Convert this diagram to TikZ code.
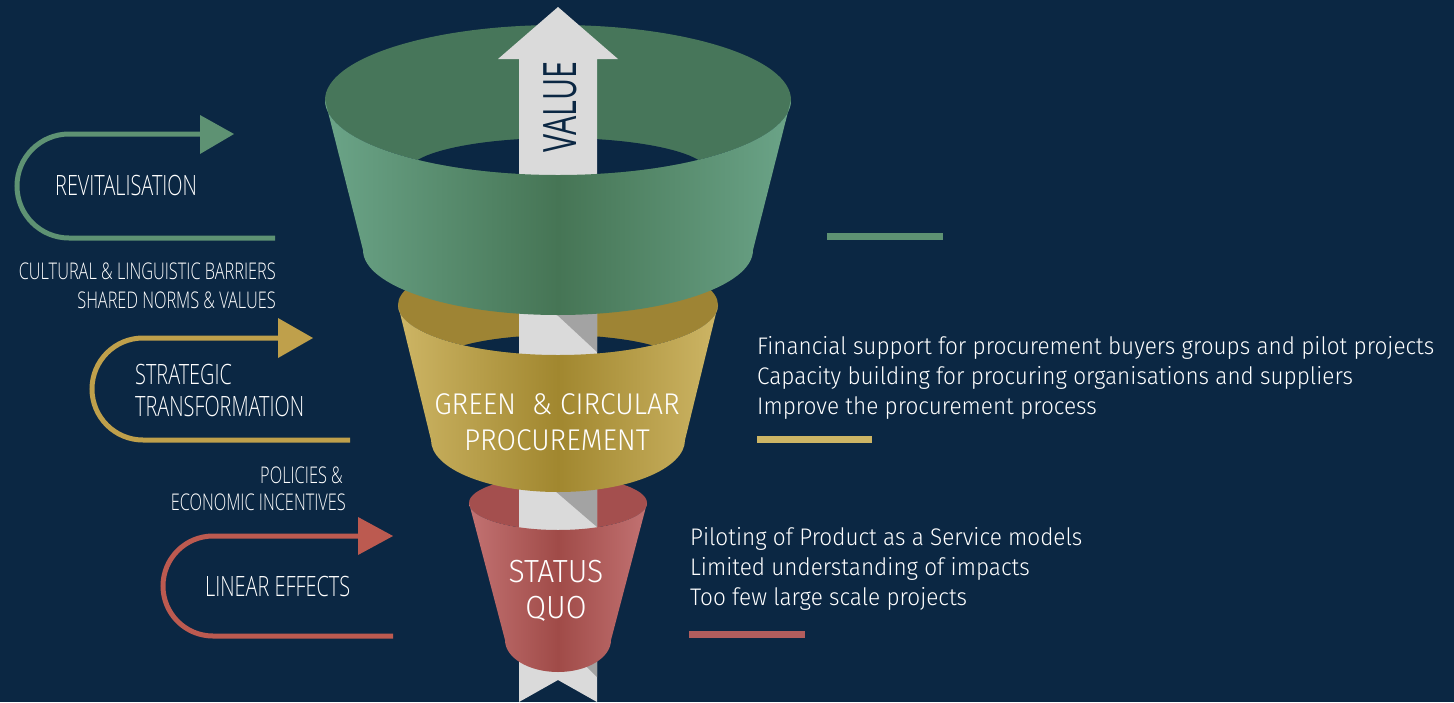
\documentclass[tikz,border=0pt]{standalone}
\usepackage{fontspec}
\setmainfont{Fira Sans}
\newfontfamily\condfont[FakeStretch=0.71]{Open Sans Light}
\newfontfamily\valuefont[FakeStretch=0.66]{Open Sans}
\newfontfamily\thinfont[FakeStretch=0.94]{Fira Sans Light}
\definecolor{navy}{HTML}{0B2743}
\definecolor{greenedge}{HTML}{6BA488}
\definecolor{greenmid}{HTML}{467555}
\definecolor{greenin}{HTML}{47765A}
\definecolor{goldedge}{HTML}{CDB565}
\definecolor{goldmid}{HTML}{A1872F}
\definecolor{goldin}{HTML}{9E8434}
\definecolor{rededge}{HTML}{C27272}
\definecolor{redmid}{HTML}{A04B48}
\definecolor{redin}{HTML}{A44F4E}
\definecolor{greenline}{HTML}{5E9273}
\definecolor{goldline}{HTML}{BFA04B}
\definecolor{redline}{HTML}{BC5A50}
\definecolor{redbar}{HTML}{B25D5D}
\definecolor{arrowlight}{HTML}{DADADA}
\definecolor{arrowgray}{HTML}{A3A3A3}
\begin{document}
\begin{tikzpicture}[x=1pt,y=-1pt,>=latex]
            \fill[navy] (0,0) rectangle (1454,702);
            \useasboundingbox (0,0) rectangle (1454,702);

            \fill[redin] (558,503) ellipse [x radius=89, y radius=27];
            \fill[goldin] (558,305) ellipse [x radius=160, y radius=50];
            \begin{scope}
                \clip (558,305) ellipse [x radius=160, y radius=50];
                \fill[navy] (558,365) ellipse [x radius=125, y radius=30];
            \end{scope}
            \fill[greenin] (558,100) ellipse [x radius=233, y radius=75];
            \begin{scope}
                \clip (558,100) ellipse [x radius=233, y radius=75];
                \fill[navy] (558,172) ellipse [x radius=150, y radius=34];
            \end{scope}

            \fill[arrowlight] (519,702) -- (519,59) -- (498,59) -- (558,7) -- (618,59)
                -- (597,59) -- (597,702) -- (558,680) -- cycle;
            \fill[arrowgray] (541,300) -- (597,300) -- (597,352) -- cycle;
            \fill[arrowgray] (540,478) -- (597,478) -- (597,527) -- cycle;
            \fill[arrowgray] (560,640) -- (597,640) -- (597,677) -- cycle;
            \node[rotate=90, text=navy, font=\valuefont\fontsize{46}{46}\selectfont] (value) at (560,107) {VALUE};

            \shade[left color=rededge, right color=rededge, middle color=redmid]
                (469,503) arc[start angle=180, end angle=0, x radius=89, y radius=27]
                -- (611,640) arc[start angle=0, end angle=180, x radius=53, y radius=32] -- cycle;
            \shade[left color=goldedge, right color=goldedge, middle color=goldmid]
                (398,305) arc[start angle=180, end angle=0, x radius=160, y radius=50]
                -- (685,440) arc[start angle=0, end angle=180, x radius=127, y radius=52] -- cycle;
            \shade[left color=greenedge, right color=greenedge, middle color=greenmid]
                (325,100) arc[start angle=180, end angle=0, x radius=233, y radius=75]
                -- (753,250) arc[start angle=0, end angle=180, x radius=195, y radius=65] -- cycle;

            \tikzset{loop line/.style={line width=5pt}}
            \draw[loop line, greenline] (275,238) -- (69,238) arc[start angle=90, end angle=270, radius=52] -- (205,134);
            \fill[greenline] (200,115) -- (234,134) -- (200,154) -- cycle;
            \draw[loop line, goldline] (350,440) -- (143,440) arc[start angle=90, end angle=270, radius=51] -- (283,338);
            \fill[goldline] (278,318) -- (313,338) -- (278,358) -- cycle;
            \draw[loop line, redline] (393,636) -- (213,636) arc[start angle=90, end angle=270, radius=50] -- (363,536);
            \fill[redline] (358,517) -- (393,536) -- (358,555) -- cycle;

            \begin{scope}[every node/.style={text=white, inner sep=0pt, font=\condfont\fontsize{28}{28}\selectfont}]
                \node[anchor=base west] (revit) at (55,195) {REVITALISATION};
                \node[anchor=base west] (strat) at (135,384) {STRATEGIC};
                \node[anchor=base west] (trans) at (135,416) {TRANSFORMATION};
                \node[anchor=base west] (linear) at (205,596) {LINEAR EFFECTS};
            \end{scope}
            \begin{scope}[every node/.style={text=white, inner sep=0pt, anchor=base east, font=\condfont\fontsize{23}{23}\selectfont}]
                \node (cult) at (276,279) {CULTURAL \& LINGUISTIC BARRIERS};
                \node (norms) at (276,308) {SHARED NORMS \& VALUES};
                \node (pol) at (343,483) {POLICIES \&};
                \node (econ) at (346,510) {ECONOMIC INCENTIVES};
            \end{scope}

            \begin{scope}[every node/.style={text=white, inner sep=0pt, anchor=base, font=\thinfont\fontsize{30}{30}\selectfont}]
                \node (green) at (557,414) {GREEN\ \ \& CIRCULAR};
                \node (proc) at (557,450) {PROCUREMENT};
                \node[font=\thinfont\fontsize{32}{32}\selectfont] (status) at (556,582) {STATUS};
                \node[font=\thinfont\fontsize{32}{32}\selectfont] (quo) at (556,618) {QUO};
            \end{scope}

            \begin{scope}[every node/.style={text=white, inner sep=0pt, anchor=base west, font=\thinfont\fontsize{24}{24}\selectfont}]
                \node (fin) at (757,354) {Financial support for procurement buyers groups and pilot projects};
                \node (cap) at (757,384) {Capacity building for procuring organisations and suppliers};
                \node (impr) at (757,414) {Improve the procurement process};
                \node (pilot) at (690,545) {Piloting of Product as a Service models};
                \node (lim) at (690,575) {Limited understanding of impacts};
                \node (few) at (690,605) {Too few large scale projects};
            \end{scope}

            \fill[greenline] (827,233) rectangle (943,240);
            \fill[goldedge] (757,436) rectangle (872,443);
            \fill[redbar] (689,631) rectangle (805,638);
\end{tikzpicture}
\end{document}
